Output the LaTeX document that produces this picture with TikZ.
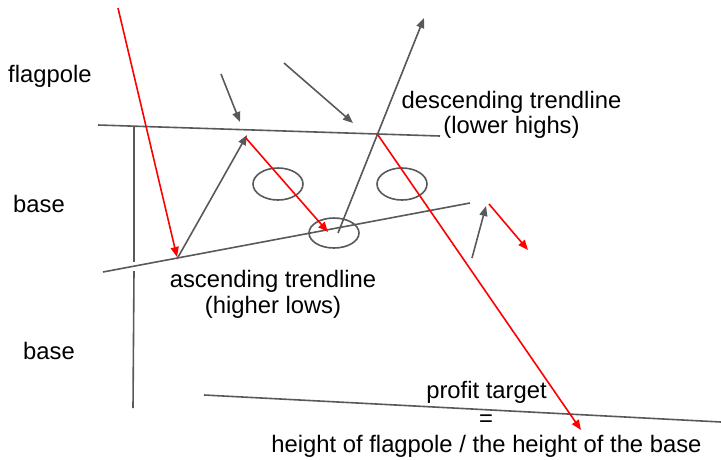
\documentclass[tikz,border=0pt]{standalone}
\usepackage{fontspec}
\setmainfont{Liberation Sans}
\usetikzlibrary{arrows.meta,shapes.geometric}
\definecolor{lgray}{HTML}{595959}
\definecolor{lred}{HTML}{FF0000}
\tikzset{
  gline/.style={draw=lgray, line width=1.6pt},
  rline/.style={draw=lred, line width=1.6pt},
  garrow/.style={gline, -{Triangle[length=10pt,width=8pt]}},
  rarrow/.style={rline, -{Triangle[length=10pt,width=8pt]}},
  oval/.style={ellipse, draw=lgray, line width=1.6pt, inner sep=0pt, minimum width=50pt, minimum height=32pt},
  lbl/.style={font=\fontsize{23.8}{26}\selectfont, inner sep=0pt, text=black},
}
\begin{document}
\begin{tikzpicture}[x=1pt,y=-1pt]
\useasboundingbox (0,0) rectangle (721,459);
% coordinates
\coordinate (fp1) at (118,8);
\coordinate (fp2) at (177,257);
\coordinate (tl1) at (98,125);
\coordinate (tl2) at (440,136);
\coordinate (v1) at (134,126);
\coordinate (v2) at (134,262);
\coordinate (v3) at (134,271);
\coordinate (v4) at (133,408);
\coordinate (bl1) at (103,272);
\coordinate (bl2) at (470,203);
\coordinate (a1s) at (177,259);
\coordinate (a1e) at (247,135);
\coordinate (r2s) at (245,137);
\coordinate (r2e) at (328,232);
\coordinate (a3s) at (338,233);
\coordinate (a3e) at (424,18);
\coordinate (a4s) at (221,74);
\coordinate (a4e) at (240,122);
\coordinate (a5s) at (284,63);
\coordinate (a5e) at (353,123);
\coordinate (r3s) at (378,135);
\coordinate (r3e) at (581,430);
\coordinate (a6s) at (472,258);
\coordinate (a6e) at (486,206);
\coordinate (r4s) at (489,204);
\coordinate (r4e) at (528,250);
\coordinate (pl1) at (204,395);
\coordinate (pl2) at (721,422);
% ovals
\node[oval] (e1) at (278,184) {};
\node[oval, minimum height=30pt] (e2) at (334,233) {};
\node[oval] (e3) at (402,184) {};
% lines
\draw[gline] (tl1) -- (tl2);
\draw[gline] (v1) -- (v2);
\draw[gline] (v3) -- (v4);
\draw[gline] (bl1) -- (bl2);
\draw[gline] (pl1) -- (pl2);
% arrows
\draw[garrow] (a1s) -- (a1e);
\draw[garrow] (a3s) -- (a3e);
\draw[garrow] (a4s) -- (a4e);
\draw[garrow] (a5s) -- (a5e);
\draw[garrow] (a6s) -- (a6e);
\draw[rarrow] (fp1) -- (fp2);
\draw[rarrow] (r2s) -- (r2e);
\draw[rarrow] (r3s) -- (r3e);
\draw[rarrow] (r4s) -- (r4e);
% labels
\node[lbl, anchor=base west] (flag) at (8,82) {flagpole};
\node[lbl, anchor=base west] (base1) at (13,212) {base};
\node[lbl, anchor=base west] (base2) at (23,359) {base};
\node[lbl, anchor=base] (desc1) at (511.5,108) {descending trendline};
\node[lbl, anchor=base] (desc2) at (511.5,133) {(lower highs)};
\node[lbl, anchor=base] (asc1) at (273,287) {ascending trendline};
\node[lbl, anchor=base] (asc2) at (273,313) {(higher lows)};
\node[lbl, anchor=base] (pt1) at (486.5,398) {profit target};
\node[lbl, anchor=base] (pt2) at (486,426) {=};
\node[lbl, anchor=base] (pt3) at (486.5,452) {height of flagpole / the height of the base};
\end{tikzpicture}
\end{document}
